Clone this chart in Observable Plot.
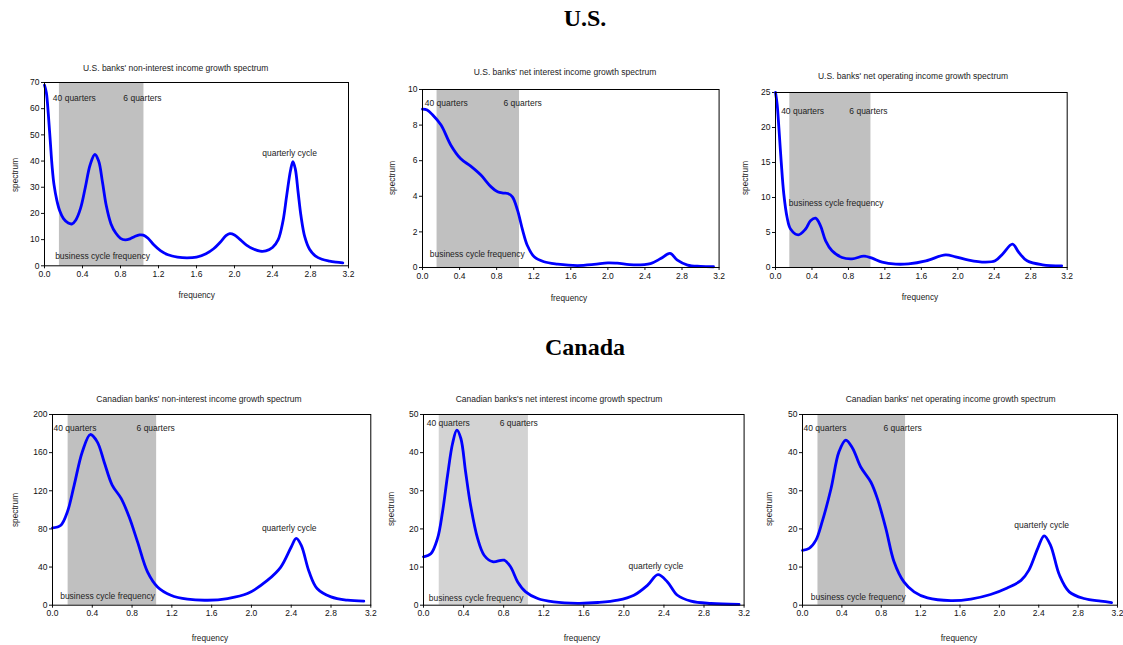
<!DOCTYPE html>
<html><head><meta charset="utf-8">
<script src="https://cdn.jsdelivr.net/npm/d3@7"></script>
<script src="https://cdn.jsdelivr.net/npm/@observablehq/plot@0.6"></script>
<style>
body{margin:0;background:#fff;}
#page{position:relative;width:1123px;height:645px;overflow:hidden;font-family:"Liberation Sans",Arial,sans-serif;}
.abs{position:absolute;transform:translate(-50%,-50%);white-space:nowrap;line-height:1;}
.head{font-family:"Liberation Serif","Times New Roman",serif;font-weight:bold;font-size:24px;color:#000;}
.ttl{font-size:8.5px;color:#222;}
.xl{font-size:8.3px;color:#222;}
.yl{font-size:8.3px;color:#222;transform:translate(-50%,-50%) rotate(-90deg);}
#page svg{position:absolute;}
</style></head><body><div id="page"></div><script>
// ---------- data ----------
const xTicks = [0, 0.4, 0.8, 1.2, 1.6, 2.0, 2.4, 2.8, 3.2];
const businessBand = [0.157, 1.047]; // 40 quarters .. 6 quarters

// U.S. non-interest income
const usNonIntFreq = [0,0.02,0.04,0.06,0.08,0.10,0.13,0.16,0.20,0.25,0.29,0.33,0.38,0.43,0.48,0.53,0.57,0.61,0.65,0.70,0.75,0.80,0.85,0.90,0.95,1.00,1.04,1.09,1.15,1.22,1.30,1.40,1.50,1.60,1.70,1.78,1.85,1.91,1.95,2.00,2.06,2.13,2.20,2.27,2.33,2.40,2.46,2.51,2.55,2.59,2.615,2.64,2.67,2.70,2.74,2.79,2.85,2.92,3.00,3.07,3.14];
const usNonIntSpec = [69,66,58,48,38,31,25,21,18,16.3,16,17.5,22,30,38.5,42.5,40,32,23,16,12.5,10.5,9.9,10.3,11.2,11.8,11.7,10.5,8,5.8,4.2,3.3,3.0,3.3,4.6,6.5,9,11.5,12.3,11.8,10,7.8,6.4,5.6,5.7,7,10,17,27,36.5,39.8,37,28,19,11,6.3,3.8,2.5,1.8,1.4,1.1];
const usNonIntYTicks = [0,10,20,30,40,50,60,70];

// U.S. net interest income
const usNetIntFreq = [0,0.05,0.108,0.2,0.306,0.41,0.52,0.63,0.74,0.81,0.87,0.92,0.97,1.025,1.08,1.13,1.205,1.31,1.457,1.67,1.85,2.0,2.1,2.28,2.46,2.57,2.67,2.75,2.86,3.0,3.14];
const usNetIntSpec = [8.9,8.85,8.58,8.0,6.87,6.12,5.69,5.19,4.53,4.25,4.18,4.16,3.97,3.22,2.1,1.25,0.6,0.32,0.19,0.11,0.17,0.26,0.24,0.15,0.22,0.5,0.79,0.41,0.13,0.06,0.04];
const usNetIntYTicks = [0,2,4,6,8,10];

// U.S. net operating income
const usNetOpFreq = [0,0.018,0.037,0.062,0.091,0.128,0.165,0.25,0.33,0.384,0.44,0.494,0.55,0.62,0.73,0.84,0.97,1.06,1.17,1.32,1.46,1.65,1.865,1.975,2.12,2.30,2.41,2.49,2.60,2.67,2.76,2.93,3.14];
const usNetOpSpec = [25,23.3,20,15.2,10.5,7.1,5.5,4.67,5.5,6.67,7.05,5.95,3.8,2.38,1.43,1.24,1.62,1.33,0.76,0.48,0.52,0.95,1.8,1.52,1.05,0.76,0.95,1.9,3.33,2.14,0.95,0.38,0.24];
const usNetOpYTicks = [0,5,10,15,20,25];

// Canada non-interest income
const caNonIntFreq = [0,0.084,0.15,0.218,0.30,0.38,0.45,0.52,0.60,0.69,0.77,0.855,0.955,1.056,1.19,1.357,1.56,1.76,1.96,2.16,2.295,2.40,2.45,2.50,2.58,2.66,2.80,2.965,3.13];
const caNonIntSpec = [81,83.9,98,126,161,179,171.3,150,126,112,92.7,66.4,35,19.2,10.5,6.3,5.2,7,12.2,26,40,61,70,63,35,17.5,8.7,5.2,4.2];
const caNonIntYTicks = [0,40,80,120,160,200];

// Canada net interest income
const caNetIntFreq = [0,0.073,0.14,0.19,0.24,0.29,0.333,0.373,0.42,0.47,0.54,0.605,0.69,0.805,0.87,0.94,1.02,1.14,1.30,1.54,1.74,1.94,2.10,2.235,2.34,2.435,2.535,2.67,2.87,3.15];
const caNetIntSpec = [12.7,13.5,17.5,24.5,34,42.4,45.9,43.7,35,26.2,17.5,13.1,11.4,11.8,10,6.1,3.5,1.75,0.87,0.5,0.7,1.3,2.6,5.2,8,6.1,2.6,1.05,0.44,0.2];
const caNetIntYTicks = [0,10,20,30,40,50];

// Canada net operating income
const caNetOpFreq = [0,0.068,0.135,0.20,0.29,0.37,0.44,0.51,0.59,0.694,0.76,0.847,0.93,1.03,1.134,1.27,1.507,1.71,1.91,2.08,2.22,2.30,2.39,2.455,2.52,2.61,2.71,2.86,3.03,3.14];
const caNetOpSpec = [14.4,14.9,17.0,21.9,30.6,40.2,43.3,41.1,36.3,32.3,28,20.1,11.4,6.1,3.5,1.9,1.2,1.6,2.8,4.5,6.5,9.2,14.9,18.2,15.7,7.9,3.5,1.75,1.05,0.7];
const caNetOpYTicks = [0,10,20,30,40,50];

// annotation labels
const annLabels = ["40 quarters","6 quarters","business cycle frequency","quarterly cycle"];
const usNonIntAnn = [[0.088,64],[0.83,64],[0.112,3.6],[2.58,42.9]];
const usNetIntAnn = [[0.025,9.2],[0.874,9.2],[0.079,0.73]];
const usNetOpAnn = [[0.062,22.3],[0.81,22.3],[0.146,9.14]];
const caNonIntAnn = [[0.01,186],[0.845,186],[0.077,9.4],[2.38,80.4]];
const caNetIntAnn = [[0.033,47.8],[0.76,47.8],[0.053,1.9],[2.32,10.2]];
const caNetOpAnn = [[0.01,46.5],[0.823,46.5],[0.085,2.0],[2.43,21]];

// titles
const panelTitles = [
  "U.S. banks' non-interest income growth spectrum",
  "U.S. banks' net interest income growth spectrum",
  "U.S. banks' net operating income growth spectrum",
  "Canadian banks' non-interest income growth spectrum",
  "Canadian banks's net interest income growth spectrum",
  "Canadian banks' net operating income growth spectrum"
];
const sectionTitles = ["U.S.", "Canada"];

// ---------- layout ----------
const layout = [
  {x0:44.3, x1:348.3, yT:81.7, yB:265, tx:175.7, ty:68, fx:196.7, fy:295, sx:15, sy:175, band:"#c0c0c0"},
  {x0:421.7, x1:718.3, yT:89.3, yB:267.3, tx:565, ty:71.7, fx:569, fy:298, sx:391.7, sy:178, band:"#c0c0c0"},
  {x0:775, x1:1066.7, yT:91.7, yB:266.7, tx:913, ty:76, fx:920, fy:296.7, sx:745, sy:178, band:"#c0c0c0"},
  {x0:51.7, x1:370, yT:414.3, yB:605, tx:199, ty:399, fx:210, fy:638, sx:15, sy:510, band:"#c0c0c0"},
  {x0:422.7, x1:743.3, yT:414.3, yB:605, tx:559, ty:399, fx:582, fy:638, sx:390.7, sy:509, band:"#d3d3d3"},
  {x0:801.7, x1:1116.7, yT:414.3, yB:605, tx:950.7, ty:399, fx:959, fy:638, sx:769, sy:509, band:"#c0c0c0"}
];
const series = [
  [usNonIntFreq, usNonIntSpec, usNonIntYTicks, usNonIntAnn],
  [usNetIntFreq, usNetIntSpec, usNetIntYTicks, usNetIntAnn],
  [usNetOpFreq, usNetOpSpec, usNetOpYTicks, usNetOpAnn],
  [caNonIntFreq, caNonIntSpec, caNonIntYTicks, caNonIntAnn],
  [caNetIntFreq, caNetIntSpec, caNetIntYTicks, caNetIntAnn],
  [caNetOpFreq, caNetOpSpec, caNetOpYTicks, caNetOpAnn]
];

const page = document.getElementById("page");
function addDiv(cls, text, x, y) {
  const d = document.createElement("div");
  d.className = "abs " + cls;
  d.textContent = text;
  d.style.left = x + "px";
  d.style.top = y + "px";
  page.appendChild(d);
}
addDiv("head", sectionTitles[0], 585, 18);
addDiv("head", sectionTitles[1], 585, 347);

const mL = 30, mR = 12, mT = 10, mB = 25;
series.forEach(([fr, sp, yt, ann], i) => {
  const L = layout[i];
  const data = fr.map((f, j) => ({f, s: sp[j]}));
  const ymax = yt[yt.length - 1];
  const annots = ann.map((a, j) => ({x: a[0], y: a[1], t: annLabels[j], anchor: j === 3 ? "middle" : "start"}));
  const W = (L.x1 - L.x0) + mL + mR;
  const H = (L.yB - L.yT) + mT + mB;
  const chart = Plot.plot({
    width: W, height: H,
    marginLeft: mL, marginRight: mR, marginTop: mT, marginBottom: mB,
    style: {fontFamily: "Liberation Sans, Arial, sans-serif", fontSize: "8.5px", background: "transparent", overflow: "visible", color: "#111"},
    x: {domain: [0, 3.2], ticks: xTicks, tickFormat: d => d.toFixed(1), label: null, tickSize: 3, tickPadding: 2},
    y: {domain: [0, ymax], ticks: yt, tickFormat: d => String(d), label: null, tickSize: 3, tickPadding: 2},
    marks: [
      Plot.rect([businessBand], {x1: d => d[0], x2: d => d[1], y1: 0, y2: ymax, fill: L.band}),
      Plot.line(data, {x: "f", y: "s", stroke: "#0000ff", strokeWidth: 2.8, curve: "catmull-rom"}),
      Plot.text(annots.filter(a => a.anchor === "start"), {x: "x", y: "y", text: "t", textAnchor: "start", fontSize: 8.5, fill: "#222"}),
      Plot.text(annots.filter(a => a.anchor === "middle"), {x: "x", y: "y", text: "t", textAnchor: "middle", fontSize: 8.5, fill: "#222"}),
      Plot.frame({stroke: "#000", strokeWidth: 1})
    ]
  });
  chart.style.position = "absolute";
  chart.style.left = (L.x0 - mL) + "px";
  chart.style.top = (L.yT - mT) + "px";
  page.appendChild(chart);
  addDiv("ttl", panelTitles[i], L.tx, L.ty);
  addDiv("xl", "frequency", L.fx, L.fy);
  addDiv("yl", "spectrum", L.sx, L.sy);
});
</script></body></html>
